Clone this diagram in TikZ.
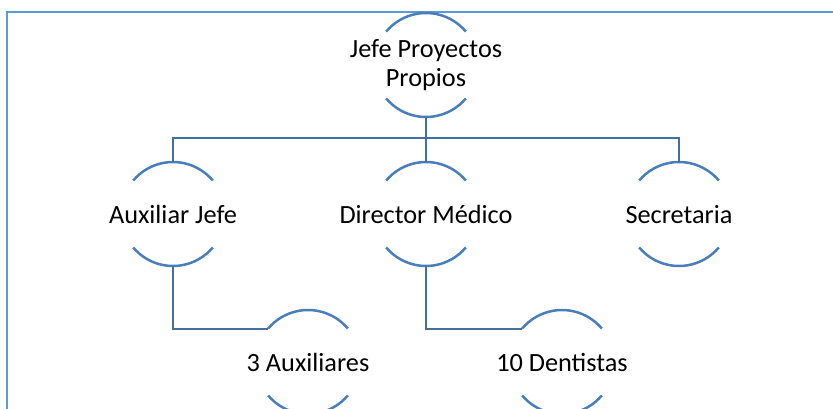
\documentclass[tikz,border=0pt]{standalone}
\usepackage{fontspec}
\setmainfont{Carlito}
\definecolor{framblue}{HTML}{5B9BD5}
\definecolor{arcblue}{HTML}{4A7EBB}
\definecolor{lineblue}{HTML}{41719C}
\begin{document}
\begin{tikzpicture}[x=1pt,y=1pt,font=\fontsize{26.3}{28.5}\selectfont]
\tikzstyle{halfcirc}=[circle,minimum size=104pt,inner sep=0pt,outer sep=0pt]
\tikzstyle{oneline}=[text height=19.5pt,text depth=0pt]
\tikzstyle{arcline}=[draw=arcblue,line width=2.5pt]
\tikzstyle{conn}=[draw=lineblue,line width=2pt]
\tikzstyle{frame}=[draw=framblue,line width=1.8pt]
\clip (0,0) rectangle (833,-409);
\draw[frame] (7,-12.3) rectangle (860,-440);

\node[halfcirc,label={[align=center]center:Jefe Proyectos\\Propios}] (jefe) at (426,-65) {};
\node[halfcirc,label={[oneline]center:Auxiliar Jefe}] (aux) at (173,-214) {};
\node[halfcirc,label={[oneline]center:Director Médico}] (dir) at (426,-214) {};
\node[halfcirc,label={[oneline]center:Secretaria}] (sec) at (679,-214) {};
\node[halfcirc,label={[oneline]center:3 Auxiliares}] (aux3) at (308,-362) {};
\node[halfcirc,label={[oneline]center:10 Dentistas}] (dent) at (562,-362) {};

\foreach \n in {jefe,aux,dir,sec,aux3,dent}{
  \draw[arcline] (\n.40) arc[start angle=40,end angle=140,radius=52pt];
  \draw[arcline] (\n.220) arc[start angle=220,end angle=320,radius=52pt];
}

\coordinate (bus) at (426,-138);
\draw[conn] (jefe.south) -- (dir.north);
\draw[conn] (aux.north) |- (bus) -| (sec.north);
\draw[conn] (aux.south) |- (aux3.140);
\draw[conn] (dir.south) |- (dent.140);
\end{tikzpicture}
\end{document}
